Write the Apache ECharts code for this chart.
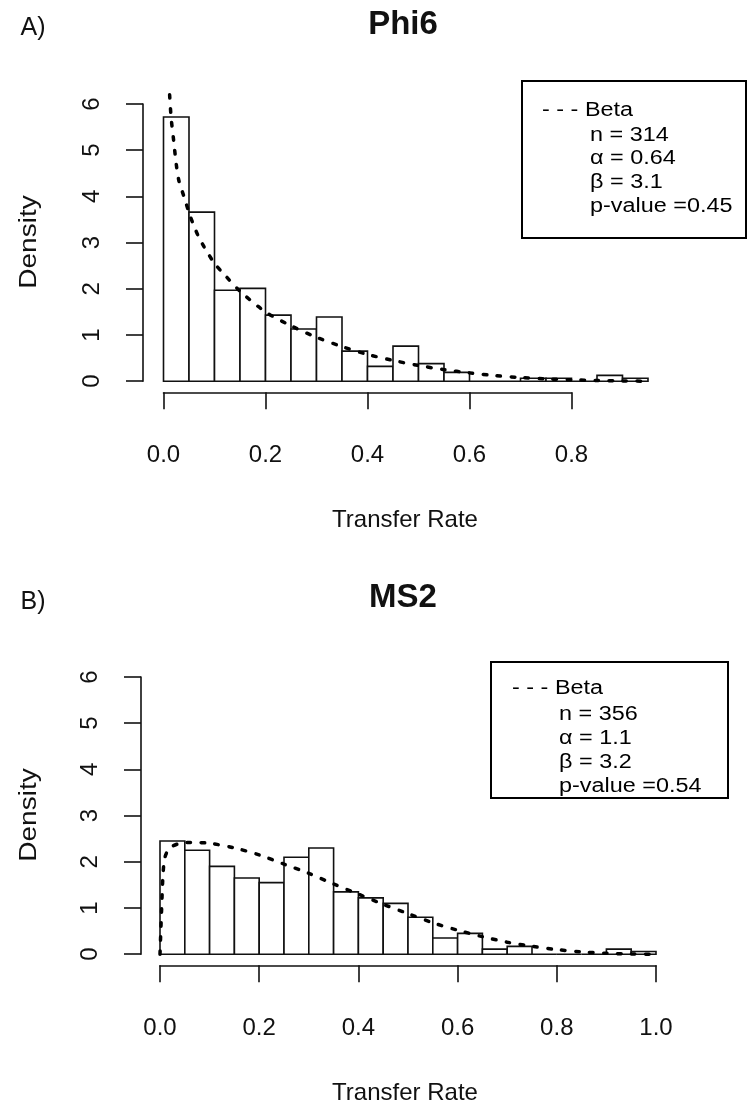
<!DOCTYPE html>
<html><head><meta charset="utf-8">
<script src="https://cdn.jsdelivr.net/npm/echarts@6/dist/echarts.min.js"></script>
<style>html,body{margin:0;padding:0;background:#fff}#c{width:749px;height:1114px}</style>
</head><body><div id="c"></div>
<script>
// ---------- data ----------
const binLeftA = [0,0.05,0.10,0.15,0.20,0.25,0.30,0.35,0.40,0.45,0.50,0.55,0.60,0.65,0.70,0.75,0.80,0.85,0.90];
const densityA = [5.72,3.66,1.97,2.01,1.43,1.13,1.39,0.65,0.32,0.76,0.38,0.19,0,0,0.064,0.064,0,0.127,0.064];
const curveAx = [0.012,0.015,0.02,0.025,0.03,0.04,0.05,0.06,0.07,0.08,0.10,0.12,0.15,0.20,0.25,0.30,0.35,0.40,0.45,0.50,0.55,0.60,0.65,0.70,0.75,0.80,0.85,0.90,0.95];
const curveAy = [6.2,5.7,5.2,4.7,4.35,4.0,3.65,3.35,3.1,2.9,2.55,2.3,1.95,1.5,1.2,0.95,0.75,0.58,0.45,0.34,0.25,0.18,0.12,0.08,0.05,0.03,0.015,0.005,0.0];

const binLeftB = [0,0.05,0.10,0.15,0.20,0.25,0.30,0.35,0.40,0.45,0.50,0.55,0.60,0.65,0.70,0.75,0.80,0.85,0.90,0.95];
const densityB = [2.45,2.25,1.9,1.65,1.55,2.1,2.3,1.35,1.22,1.1,0.8,0.35,0.45,0.11,0.17,0,0,0,0.11,0.06];
const curveBx = [0,0.003,0.006,0.01,0.02,0.04,0.06,0.10,0.15,0.20,0.25,0.30,0.35,0.40,0.45,0.50,0.55,0.60,0.65,0.70,0.75,0.80,0.85,0.90,0.95,1.0];
const curveBy = [0,0.9,1.7,2.1,2.3,2.4,2.42,2.4,2.3,2.15,1.95,1.75,1.52,1.3,1.08,0.88,0.68,0.52,0.38,0.26,0.17,0.10,0.05,0.02,0.005,0];

const yTicks = [0,1,2,3,4,5,6];
const binWidth = 0.05;

// ---------- layout ----------
const FONT = '"Liberation Sans", Arial, sans-serif';
const INK = '#111';
const pxPerY = 46.2;
const P = {
  A: {x0:163.5, yTop:104, yAxisX:143, pxX:510, xMax:0.95, xAxisMax:0.8},
  B: {x0:160, yTop:677, yAxisX:141, pxX:496, xMax:1.0, xAxisMax:1.0}
};
function y0(p){return p.yTop + 6*pxPerY;}

const grids = [], xAxes = [], yAxes = [], series = [];
function addPanel(p, binLeft, dens, cx, cy){
  const gi = grids.length;
  const base = y0(p);
  const xLine = base + 0.24*pxPerY;
  grids.push({left:p.x0, top:p.yTop, width:p.pxX*p.xMax, height:6*pxPerY, containLabel:false});
  xAxes.push({gridIndex:gi, type:'value', min:0, max:p.xMax, show:false});
  yAxes.push({gridIndex:gi, type:'value', min:0, max:6, show:false});
  grids.push({left:p.x0, top:xLine-1, width:p.pxX*p.xAxisMax, height:1});
  xAxes.push({gridIndex:gi+1, type:'value', min:0, max:p.xAxisMax, interval:0.2,
    axisLine:{show:true, lineStyle:{color:INK, width:1.6}},
    axisTick:{show:true, inside:false, length:17, lineStyle:{color:INK, width:1.6}},
    axisLabel:{show:true, margin:51, fontFamily:FONT, fontSize:24, color:'#111', formatter:v=>v.toFixed(1)},
    splitLine:{show:false}});
  yAxes.push({gridIndex:gi+1, type:'value', show:false});
  grids.push({left:p.yAxisX, top:p.yTop, width:1, height:6*pxPerY});
  xAxes.push({gridIndex:gi+2, type:'value', show:false});
  yAxes.push({gridIndex:gi+2, type:'value', min:yTicks[0], max:yTicks[yTicks.length-1], interval:1,
    axisLine:{show:true, lineStyle:{color:INK, width:1.6}},
    axisTick:{show:true, inside:false, length:17, lineStyle:{color:INK, width:1.6}},
    axisLabel:{show:true, margin:39, rotate:90, fontFamily:FONT, fontSize:24, color:'#111'},
    splitLine:{show:false}});
  series.push({type:'custom', xAxisIndex:gi, yAxisIndex:gi, clip:false,
    data: binLeft.map((l,i)=>[l, l+binWidth, dens[i]]),
    renderItem:(params, api)=>{
      const a = api.coord([api.value(0), api.value(2)]);
      const b = api.coord([api.value(1), 0]);
      return {type:'rect', shape:{x:a[0], y:a[1], width:b[0]-a[0], height:b[1]-a[1]},
        style:{fill:'#fff', stroke:INK, lineWidth:1.6}};
    }});
  series.push({type:'line', xAxisIndex:gi, yAxisIndex:gi, clip:false, symbol:'none', smooth:0.3,
    data: cx.map((x,i)=>[x, cy[i]]),
    lineStyle:{color:'#000', width:3.5, type:[3.5,10.5], cap:'round'}, z:5});
}
addPanel(P.A, binLeftA, densityA, curveAx, curveAy);
addPanel(P.B, binLeftB, densityB, curveBx, curveBy);

function txt(x,y,s,opt,extra){return Object.assign({type:'text', x:x, y:y, style:Object.assign({text:s, font:'22px '+FONT, fill:'#111', textAlign:'center', textVerticalAlign:'middle'}, opt||{})}, extra||{});}
function legend(left, top, w, h, lines){
  const g = [{type:'rect', shape:{x:left, y:top, width:w, height:h}, style:{fill:'#fff', stroke:'#000', lineWidth:2}}];
  lines.forEach((l)=>g.push({type:'text', x:l[0], y:l[1], scaleX:1.17, style:{text:l[2], font:'20px '+FONT, fill:'#000', textAlign:'left', textVerticalAlign:'middle'}}));
  return g;
}
const graphics = [
  txt(33, 28, 'A)', {font:'25px '+FONT}),
  txt(403, 25, 'Phi6', {font:'bold 33px '+FONT}),
  txt(30, 242, 'Density', {font:'23px '+FONT}, {rotation:Math.PI/2, scaleX:1.22}),
  txt(405, 520, 'Transfer Rate', {font:'24px '+FONT}),
  txt(33, 602, 'B)', {font:'25px '+FONT}),
  txt(403, 598, 'MS2', {font:'bold 33px '+FONT}),
  txt(30, 815, 'Density', {font:'23px '+FONT}, {rotation:Math.PI/2, scaleX:1.22}),
  txt(405, 1093, 'Transfer Rate', {font:'24px '+FONT}),
  ...legend(522, 81, 224, 157, [[542,110,'- - - Beta'],[590,135,'n = 314'],[590,158,'\u03b1 = 0.64'],[590,182,'\u03b2 = 3.1'],[590,206,'p-value =0.45']]),
  ...legend(491, 662, 237, 136, [[512,688,'- - - Beta'],[559,714,'n = 356'],[559,738,'\u03b1 = 1.1'],[559,762,'\u03b2 = 3.2'],[559,786,'p-value =0.54']])
];

const chart = echarts.init(document.getElementById('c'), null, {renderer:'canvas'});
chart.setOption({
  animation:false, backgroundColor:'#fff',
  grid:grids, xAxis:xAxes, yAxis:yAxes, series:series, graphic:{elements:graphics}
});
</script></body></html>
